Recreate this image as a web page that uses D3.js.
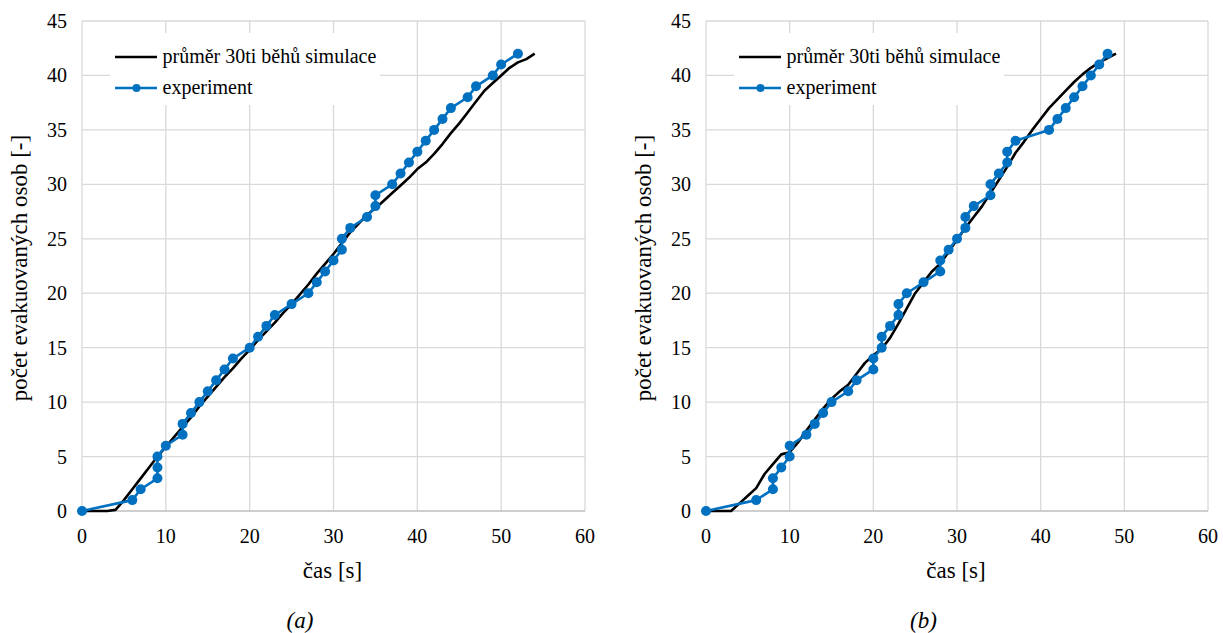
<!DOCTYPE html>
<html>
<head>
<meta charset="utf-8">
<script src="https://cdn.jsdelivr.net/npm/d3@7"></script>
<style>
	body { margin: 0; background: #fff; }
</style>
</head>
<body>
<svg id="chart" width="1223" height="633" font-family="'Liberation Serif', 'Times New Roman', Tinos, 'DejaVu Serif', serif"></svg>
<script>
// x ticks, y ticks
const xTicks = [0, 10, 20, 30, 40, 50, 60];
const yTicks = [0, 5, 10, 15, 20, 25, 30, 35, 40, 45];

// (a) simulation average, one value per second from t = 0
const simA = [0, 0, 0, 0, 0.1, 1, 2, 3, 4, 5, 5.9, 6.8, 7.7, 8.6, 9.6, 10.5, 11.4, 12.3, 13.1, 14,
	14.8, 15.7, 16.5, 17.3, 18.2, 19.0, 19.9, 20.8, 21.8, 22.7, 23.6, 24.6, 25.6, 26.4, 27.2, 27.8,
	28.5, 29.2, 29.9, 30.6, 31.4, 32.0, 32.8, 33.7, 34.7, 35.6, 36.6, 37.6, 38.6, 39.3, 40.0, 40.7,
	41.2, 41.5, 42];
// (a) experiment: time of each evacuated person
const expTimeA = [0, 6, 7, 9, 9, 9, 10, 12, 12, 13, 14, 15, 16, 17, 18, 20, 21, 22, 23, 25, 27, 28,
	29, 30, 31, 31, 32, 34, 35, 35, 37, 38, 39, 40, 41, 42, 43, 44, 46, 47, 49, 50, 52];

// (b) simulation average, one value per second from t = 0
const simB = [0, 0, 0, 0, 0.7, 1.4, 2.1, 3.4, 4.3, 5.2, 5.4, 6.3, 7.4, 8.4, 9.4, 10.3, 11.0, 11.6,
	12.6, 13.6, 14.3, 14.9, 15.9, 17.2, 18.6, 20.0, 21.0, 22.0, 22.7, 23.8, 24.9, 26.0, 27.0, 28.0,
	29.2, 30.4, 31.6, 32.9, 33.9, 35.0, 36.0, 37.0, 37.8, 38.6, 39.4, 40.1, 40.7, 41.2, 41.6, 42];
// (b) experiment: time of each evacuated person
const expTimeB = [0, 6, 8, 8, 9, 10, 10, 12, 13, 14, 15, 17, 18, 20, 20, 21, 21, 22, 23, 23, 24,
	26, 28, 28, 29, 30, 31, 31, 32, 34, 34, 35, 36, 36, 37, 41, 42, 43, 44, 45, 46, 47, 48];

const seriesNames = ["průměr 30ti běhů simulace", "experiment"];
const xTitle = "čas [s]";
const yTitle = "počet evakuovaných osob [-]";

const svg = d3.select("#chart");
const blue = "#0070c0";
const grid = "#d9d9d9";

function panel(left, width, sim, expTime, caption) {
	let top = 21, h = 490;
	let g = svg.append("g");
	let x = d3.scaleLinear().domain([0, 60]).range([left, left + width]);
	let y = d3.scaleLinear().domain([0, 45]).range([top + h, top]);

	// gridlines
	g.selectAll(".vg").data(xTicks).enter().append("line")
		.attr("x1", d => x(d)).attr("x2", d => x(d)).attr("y1", top).attr("y2", top + h)
		.attr("stroke", grid).attr("stroke-width", 1.3);
	g.selectAll(".hg").data(yTicks).enter().append("line")
		.attr("x1", left).attr("x2", left + width).attr("y1", d => y(d)).attr("y2", d => y(d))
		.attr("stroke", d => d === 0 ? "#bfbfbf" : grid).attr("stroke-width", 1.3);

	// tick labels
	g.selectAll(".xt").data(xTicks).enter().append("text")
		.attr("x", d => x(d)).attr("y", 543)
		.attr("text-anchor", "middle").attr("font-size", 20).text(d => d);
	g.selectAll(".yt").data(yTicks).enter().append("text")
		.attr("x", left - 15).attr("y", d => y(d) + 7)
		.attr("text-anchor", "end").attr("font-size", 20).text(d => d);

	// titles
	g.append("text").attr("x", x(30) - 1).attr("y", 578).attr("text-anchor", "middle")
		.attr("font-size", 23).text(xTitle);
	g.append("text").attr("transform", "translate(" + (left - 55) + ",268) rotate(-90)")
		.attr("text-anchor", "middle").attr("font-size", 23).text(yTitle);
	g.append("text").attr("x", x(26)).attr("y", 628).attr("text-anchor", "middle")
		.attr("font-size", 23).attr("font-style", "italic").text(caption);

	// legend
	let lg = g.append("g").attr("transform", "translate(" + (left + 28) + ",33)");
	lg.append("rect").attr("width", 270).attr("height", 72).attr("fill", "#fff");
	lg.append("line").attr("x1", 5).attr("x2", 47).attr("y1", 24).attr("y2", 24)
		.attr("stroke", "#000").attr("stroke-width", 2.5);
	lg.append("text").attr("x", 52.5).attr("y", 30).attr("font-size", 20).text(seriesNames[0]);
	lg.append("line").attr("x1", 5).attr("x2", 47).attr("y1", 55).attr("y2", 55)
		.attr("stroke", blue).attr("stroke-width", 2.5);
	lg.append("circle").attr("cx", 26.5).attr("cy", 55).attr("r", 4).attr("fill", blue);
	lg.append("text").attr("x", 52.5).attr("y", 61).attr("font-size", 20).text(seriesNames[1]);

	// simulation line
	let line = d3.line().x(d => x(d[0])).y(d => y(d[1]));
	g.append("path").datum(sim.map((v, i) => [i, v]))
		.attr("d", line).attr("fill", "none").attr("stroke", "#000").attr("stroke-width", 2.6)
		.attr("stroke-linejoin", "round");

	// experiment
	let exp = expTime.map((t, i) => [t, i]);
	g.append("path").datum(exp)
		.attr("d", line).attr("fill", "none").attr("stroke", blue).attr("stroke-width", 2.6)
		.attr("stroke-linejoin", "round");
	g.selectAll(".pt").data(exp).enter().append("circle")
		.attr("cx", d => x(d[0])).attr("cy", d => y(d[1])).attr("r", 5).attr("fill", blue);
}

panel(82, 503, simA, expTimeA, "(a)");
panel(706, 502, simB, expTimeB, "(b)");
</script>
</body>
</html>
